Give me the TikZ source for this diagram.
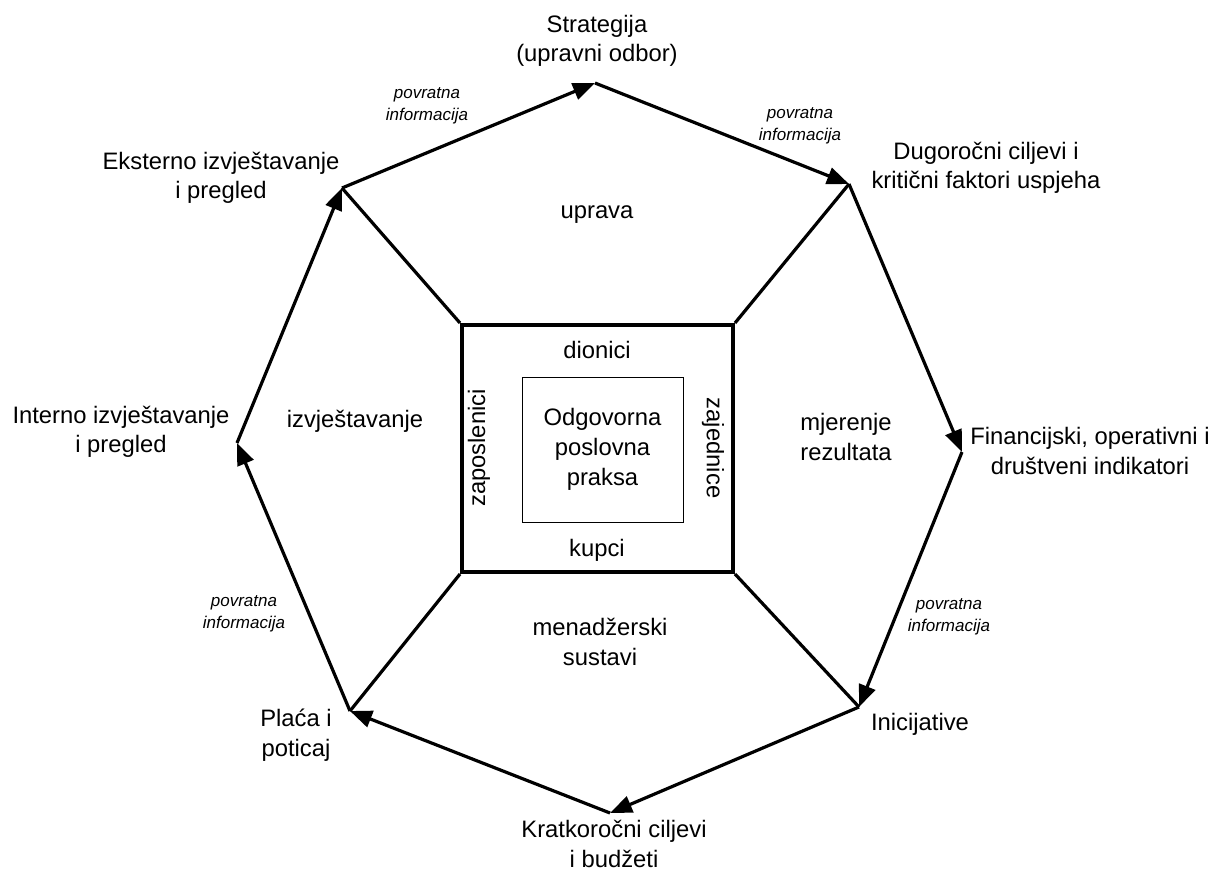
\documentclass[tikz,border=0pt]{standalone}
\usepackage{fontspec}
\setmainfont{Liberation Sans}
\usetikzlibrary{arrows.meta}
\begin{document}
\begin{tikzpicture}[x=1pt,y=-1pt,
  lbl/.style={align=center,inner sep=0pt,font=\fontsize{23.8}{29.5}\selectfont},
  fb/.style={align=center,inner sep=0pt,font=\fontsize{17}{22}\itshape\selectfont},
  flow/.style={line width=3.2pt,-{Triangle[length=22pt,width=17pt]}},
  spoke/.style={line width=3.2pt},
  ]
\useasboundingbox (0,0) rectangle (1229,870);
% octagon vertices
\coordinate (T) at (595,83);
\coordinate (UR) at (849,184);
\coordinate (R) at (962,452);
\coordinate (LR) at (859,707);
\coordinate (B) at (610,813);
\coordinate (LL) at (350,711);
\coordinate (L) at (237,443);
\coordinate (UL) at (342,188);
% central square and box
\node[draw,line width=4pt,minimum width=271pt,minimum height=247pt,inner sep=0pt] (sq) at (597.5,448.5) {};
\node[draw,line width=1pt,minimum width=161pt,minimum height=145pt,inner sep=0pt,
      align=center,font=\fontsize{23.8}{30}\selectfont] (core) at (602.5,449.5) {Odgovorna\\poslovna\\praksa};
% spokes
\draw[spoke] (sq.north west) -- (UL);
\draw[spoke] (sq.north east) -- (UR);
\draw[spoke] (sq.south east) -- (LR);
\draw[spoke] (sq.south west) -- (LL);
% flows
\draw[flow] (UL) -- (T);
\draw[flow] (T) -- (UR);
\draw[flow] (UR) -- (R);
\draw[flow] (R) -- (LR);
\draw[flow] (LR) -- (B);
\draw[flow] (B) -- (LL);
\draw[flow] (LL) -- (L);
\draw[flow] (L) -- (UL);
% outer labels
\node[lbl] (tStrat) at (597,41) {Strategija\\(upravni odbor)};
\node[lbl] (tDug) at (986,168) {Dugoročni ciljevi i\\kritični faktori uspjeha};
\node[lbl] (tFin) at (1090,451) {Financijski, operativni i\\društveni indikatori};
\node[lbl] (tIni) at (920,724) {Inicijative};
\node[lbl] (tKra) at (614,844) {Kratkoročni ciljevi\\i budžeti};
\node[lbl] (tPla) at (296,735) {Plaća i\\poticaj};
\node[lbl] (tInt) at (121,432) {Interno izvještavanje\\i pregled};
\node[lbl] (tEks) at (221,178) {Eksterno izvještavanje\\i pregled};
% feedback labels
\node[fb] (f1) at (427,106) {povratna\\informacija};
\node[fb] (f2) at (800,126) {povratna\\informacija};
\node[fb] (f3) at (244,614) {povratna\\informacija};
\node[fb] (f4) at (949,617) {povratna\\informacija};
% region labels
\node[lbl] (rUp) at (597,215) {uprava};
\node[lbl] (rIz) at (355,421) {izvještavanje};
\node[lbl] (rMj) at (846,437) {mjerenje\\rezultata};
\node[lbl] (rMe) at (600,642) {menadžerski\\sustavi};
% inner ring labels
\node[lbl] (iDi) at (597,350) {dionici};
\node[lbl] (iKu) at (597,550) {kupci};
\node[lbl,rotate=90] (iZa) at (479,448) {zaposlenici};
\node[lbl,rotate=-90] (iZj) at (713,448) {zajednice};
\end{tikzpicture}
\end{document}
